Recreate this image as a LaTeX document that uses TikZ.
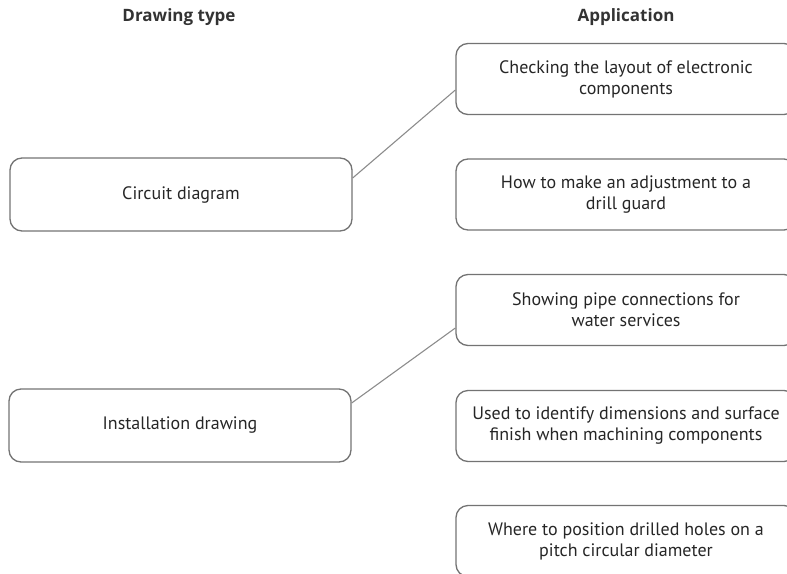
\documentclass[tikz,border=0pt]{standalone}
\usepackage{fontspec}
\setmainfont{PT Sans}
\newfontfamily\headfont{Open Sans}
\begin{document}
\begin{tikzpicture}[x=1pt,y=-1pt,
  box/.style={draw=black!55,line width=1.3pt,rounded corners=12pt,align=center,
    text=black!85,font=\fontsize{18}{21}\selectfont,inner sep=0pt},
  lbox/.style={box,minimum width=342pt,minimum height=73pt},
  rbox/.style={box,minimum width=340pt,minimum height=71pt},
  head/.style={font=\headfont\fontsize{17}{20}\selectfont\bfseries,text=black!80,inner sep=0pt},
  conn/.style={draw=black!45,line width=1.1pt}]
\useasboundingbox (0,0) rectangle (787,573);
\node[head] (h1) at (179,17) {Drawing type};
\node[head] (h2) at (626,17) {Application};
\node[lbox] (l1) at (181,194.5) {Circuit diagram};
\node[lbox] (l2) at (180,425.5) {Installation drawing};
\node[rbox] (r1) at (626,79) {Checking the layout of electronic\\components};
\node[rbox] (r2) at (626,194.5) {How to make an adjustment to a\\drill guard};
\node[rbox] (r3) at (626,310) {Showing pipe connections for\\water services};
\node[rbox] (r4) at (626,426) {Used to identify dimensions and surface\\finish when machining components};
\node[rbox] (r5) at (626,541) {Where to position drilled holes on a\\pitch circular diameter};
\draw[conn] ([yshift=16.5pt]l1.east) -- ([yshift=-11pt]r1.west);
\draw[conn] ([yshift=22.5pt]l2.east) -- ([yshift=-18pt]r3.west);
\end{tikzpicture}
\end{document}
